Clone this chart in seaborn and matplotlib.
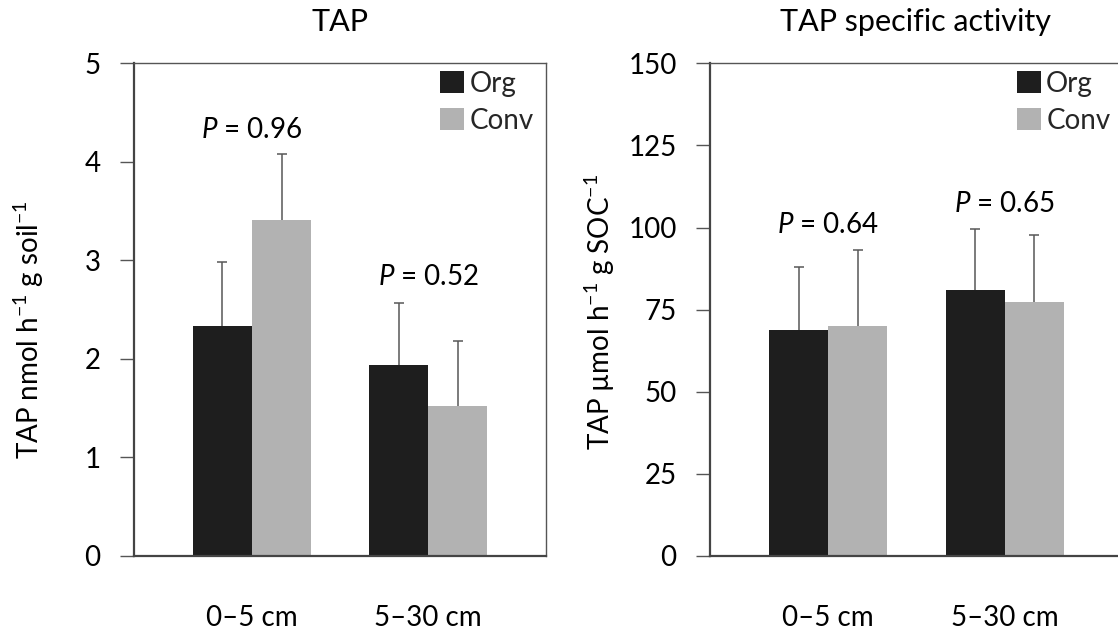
import numpy as np
import pandas as pd
import matplotlib
matplotlib.use("Agg")
import matplotlib.pyplot as plt
import seaborn as sns
from matplotlib.patches import Patch

# ---- data ----
depths = ["0\u20135 cm", "5\u201330 cm"]
systems = ["Org", "Conv"]
tap_org = [2.33, 1.94]
tap_conv = [3.41, 1.52]
tap_org_err = [0.65, 0.63]
tap_conv_err = [0.67, 0.66]
spec_org = [68.8, 81.0]
spec_conv = [69.9, 77.3]
spec_org_err = [19.1, 18.6]
spec_conv_err = [23.4, 20.4]
p_left = ["0.96", "0.52"]
p_right = ["0.64", "0.65"]
p_left_y = [4.32, 2.83]
p_right_y = [100.8, 107.2]

sns.set_theme(style="white")
plt.rcParams['font.family'] = ['Lato', 'DejaVu Sans']
plt.rcParams['mathtext.fontset'] = 'custom'
plt.rcParams['mathtext.rm'] = 'Lato'
plt.rcParams['mathtext.it'] = 'Lato:italic'

colors = {"Org": "#1e1e1e", "Conv": "#b2b2b2"}
FS = 20

fig = plt.figure(figsize=(11.18, 6.36), dpi=100)
ax1 = fig.add_axes([133.7/1118, 80/636, 412/1118, 492.7/636])
ax2 = fig.add_axes([710/1118, 80/636, 412/1118, 492.7/636])

def panel(ax, org, conv, org_err, conv_err, ymax, step, title, ylabel, ptexts, py, ylab_y, ylab_x):
    df = pd.DataFrame({
        "depth": depths * 2,
        "system": ["Org"] * 2 + ["Conv"] * 2,
        "value": list(org) + list(conv),
        "err": list(org_err) + list(conv_err),
    })
    sns.barplot(data=df, x="depth", y="value", hue="system", hue_order=systems,
                palette=colors, width=0.67, errorbar=None, ax=ax,
                saturation=1, linewidth=0, legend=False)
    # error bars (upper only)
    for cont, sysname in zip(ax.containers, systems):
        sub = df[df.system == sysname]
        xs = [b.get_x() + b.get_width() / 2 for b in cont]
        ys = sub["value"].values
        es = sub["err"].values
        eb = ax.errorbar(xs, ys, yerr=[np.zeros_like(es), es], fmt="none",
                         ecolor="#575757", elinewidth=1.1, capsize=3.5, capthick=1.1,
                         zorder=1)
        for cl in eb[1]:
            if np.allclose(cl.get_ydata(), ys):
                cl.set_visible(False)
    ax.set_xlim(-0.671, 1.666)
    ax.set_ylim(0, ymax)
    ax.set_yticks(np.arange(0, ymax + step / 2, step))
    ax.set_xlabel("")
    ax.set_ylabel(ylabel, fontsize=FS, color="black")
    ax.yaxis.set_label_coords(ylab_x, ylab_y)
    ax.set_title(title, fontsize=22, pad=23, color="black")
    ax.tick_params(axis="y", length=10, width=1, color="#555555", pad=14,
                   labelsize=FS, labelcolor="black", direction="out", left=True)
    ax.tick_params(axis="x", length=0, pad=35, labelsize=FS, labelcolor="black")
    for s in ["left", "bottom"]:
        ax.spines[s].set_color("#444444")
        ax.spines[s].set_linewidth(1.6)
    ax.spines["top"].set_color("#555555")
    ax.spines["top"].set_linewidth(1.0)
    ax.spines["right"].set_color("#555555")
    ax.spines["right"].set_linewidth(1.0)
    for i, (t, y) in enumerate(zip(ptexts, py)):
        ax.text(i, y, "$\\mathit{P}$ = " + t, ha="center", va="center",
                fontsize=FS, color="black")
    handles = [Patch(facecolor=colors[s], edgecolor="none", label=s) for s in systems]
    ax.legend(handles=handles, loc="upper right", bbox_to_anchor=(0.972, 0.985),
              frameon=False, fontsize=FS, handlelength=0.86, handleheight=0.85,
              handletextpad=0.2, labelspacing=0.4, borderpad=0, borderaxespad=0)

panel(ax1, tap_org, tap_conv, tap_org_err, tap_conv_err, 5, 1, "TAP",
      "TAP nmol h$^{\\mathregular{-1}}$ g soil$^{\\mathregular{-1}}$",
      p_left, p_left_y, 0.46, -0.213)
panel(ax2, spec_org, spec_conv, spec_org_err, spec_conv_err, 150, 25,
      "TAP specific activity",
      "TAP \u00b5mol h$^{\\mathregular{-1}}$ g SOC$^{\\mathregular{-1}}$",
      p_right, p_right_y, 0.495, -0.226)

fig.savefig("out.png", dpi=100)
